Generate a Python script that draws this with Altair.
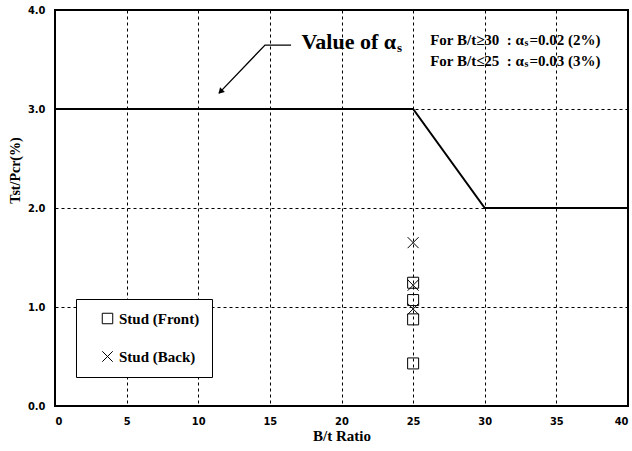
import altair as alt
import pandas as pd

# ---- data ----
limit_x = [0, 25, 30, 40]
limit_y = [3.0, 3.0, 2.0, 2.0]

front_x = [25, 25, 25, 25]
front_y = [1.245, 1.07, 0.875, 0.43]
back_x = [25, 25, 25]
back_y = [1.65, 1.22, 0.98]

x_ticks = [0, 5, 10, 15, 20, 25, 30, 35, 40]
y_ticks = [0.0, 1.0, 2.0, 3.0, 4.0]

# annotation anchors (data units)
leader_x = [16.48, 14.66, 11.45]
leader_y = [3.646, 3.646, 3.16]
arrow_tip_x = [11.55]
arrow_tip_y = [3.175]

value_label = ["Value of α"]
value_x = [23.81]
value_y = [3.68]

note_left = ["For B/t≥30\u00a0\u00a0: α", "For B/t≤25\u00a0\u00a0: α"]
note_right = ["=0.02 (2%)", "=0.03 (3%)"]
note_alpha_x = [32.74, 32.74]
note_right_x = [33.12, 33.12]
note_y = [3.695, 3.485]

SERIF = "Liberation Serif, Times New Roman, serif"
NARROW = "Liberation Sans Narrow, DejaVu Sans Condensed, sans-serif"

xs = alt.Scale(domain=[0, 40], nice=False, zero=False)
ys = alt.Scale(domain=[0, 4], nice=False, zero=False)

xaxis = alt.Axis(values=x_ticks, title="B/t Ratio", format="d", labelPadding=9,
                 titlePadding=2, labelFont=NARROW, labelFontSize=11, labelFontWeight="bold",
                 titleFont=SERIF, titleFontSize=15, titleFontWeight="bold")
yaxis = alt.Axis(values=y_ticks, title="Tst/Pcr(%)", format=".1f", labelPadding=10,
                 labelFont=NARROW, labelFontSize=11, labelFontWeight="bold",
                 titleFont=SERIF, titleFontSize=14, titleFontWeight="bold",
                 titleX=-40, titleY=160, titleAngle=270, titleAlign="center",
                 titleBaseline="middle")

line_df = pd.DataFrame({"x": limit_x, "y": limit_y, "o": range(len(limit_x))})
line = alt.Chart(line_df).mark_line(color="black", strokeWidth=2).encode(
    x=alt.X("x:Q", scale=xs, axis=xaxis),
    y=alt.Y("y:Q", scale=ys, axis=yaxis),
    order="o:Q",
)

pts_df = pd.DataFrame({
    "x": front_x + back_x,
    "y": front_y + back_y,
    "series": ["Stud (Front)"] * len(front_x) + ["Stud (Back)"] * len(back_x),
})
XPATH = "M-1,-1L1,1M-1,1L1,-1"
points = alt.Chart(pts_df).mark_point(filled=False, color="black", strokeWidth=1, size=121, opacity=1).encode(
    x="x:Q",
    y="y:Q",
    shape=alt.Shape("series:N",
                    scale=alt.Scale(domain=["Stud (Front)", "Stud (Back)"], range=["square", XPATH]),
                    legend=alt.Legend(title=None, orient="none", legendX=21, legendY=289,
                                      direction="vertical", fillColor="white",
                                      strokeColor="black", padding=12, symbolOffset=12,
                                      labelOffset=4, rowPadding=22, symbolSize=110,
                                      symbolStrokeColor="black", symbolStrokeWidth=1,
                                      symbolFillColor="transparent",
                                      labelFont=SERIF, labelFontSize=15, labelFontWeight="bold",
                                      labelColor="black")),
)

lead_df = pd.DataFrame({"x": leader_x, "y": leader_y, "o": range(len(leader_x))})
leader = alt.Chart(lead_df).mark_line(color="black", strokeWidth=1.3).encode(
    x="x:Q", y="y:Q", order="o:Q")

tip_df = pd.DataFrame({"x": arrow_tip_x, "y": arrow_tip_y})
tip = alt.Chart(tip_df).mark_point(shape="triangle-up", filled=True, color="black", size=45,
                                   angle=224, opacity=1).encode(x="x:Q", y="y:Q")

val_df = pd.DataFrame({"t": value_label, "x": value_x, "y": value_y})
val_main = alt.Chart(val_df).mark_text(align="right", baseline="middle", font=SERIF,
                                       fontSize=22, fontWeight="bold", color="black").encode(
    x="x:Q", y="y:Q", text="t:N")
val_sub = alt.Chart(val_df).mark_text(align="left", baseline="middle", font=SERIF,
                                      fontSize=13, fontWeight="bold", color="black",
                                      dx=1, dy=6).encode(x="x:Q", y="y:Q", text=alt.value("s"))

note_df = pd.DataFrame({"l": note_left, "r": note_right, "xa": note_alpha_x,
                        "xr": note_right_x, "y": note_y})
note_l = alt.Chart(note_df).mark_text(align="right", baseline="middle", font=SERIF,
                                      fontSize=15, fontWeight="bold", color="black").encode(
    x="xa:Q", y="y:Q", text="l:N")
note_s = alt.Chart(note_df).mark_text(align="left", baseline="middle", font=SERIF,
                                      fontSize=10, fontWeight="bold", color="black",
                                      dx=0.5, dy=3).encode(x="xa:Q", y="y:Q", text=alt.value("s"))
note_r = alt.Chart(note_df).mark_text(align="left", baseline="middle", font=SERIF,
                                      fontSize=15, fontWeight="bold", color="black").encode(
    x="xr:Q", y="y:Q", text="r:N")

chart = alt.layer(line, leader, tip, val_main, val_sub, note_l, note_s, note_r, points).properties(
    width=573, height=396,
    autosize=alt.AutoSizeParams(type="none"),
    padding={"left": 55, "top": 10, "right": 4, "bottom": 45},
    background="white",
).configure_view(stroke="black", strokeWidth=2).configure_axis(
    domain=False, ticks=False, grid=True, gridColor="black", gridDash=[3, 3],
    gridWidth=1, gridOpacity=1, labelColor="black", titleColor="black",
)

chart.save("out.html", embed_options={"renderer": "svg", "actions": False})
